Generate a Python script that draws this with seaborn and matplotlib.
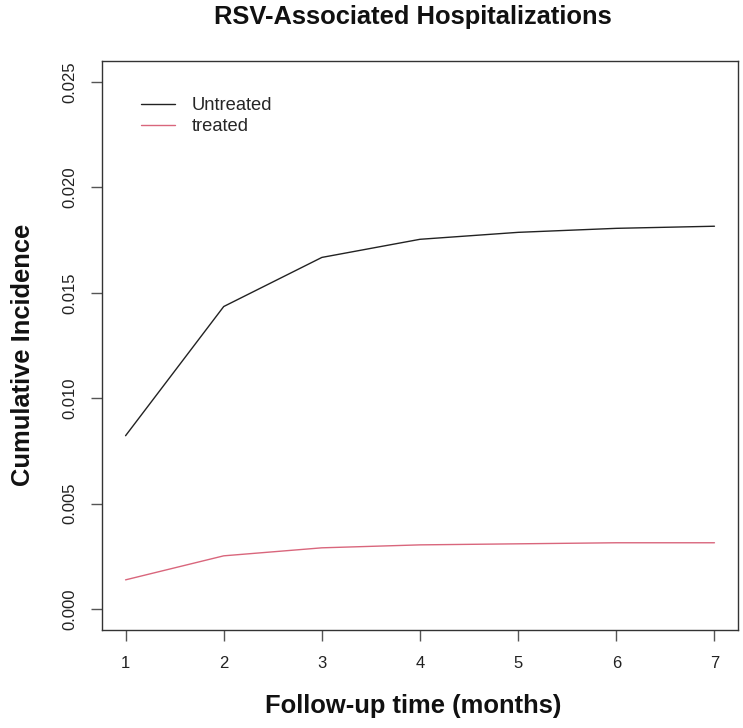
import pandas as pd
import matplotlib
matplotlib.use('Agg')
import matplotlib.pyplot as plt
import seaborn as sns

# values
months = [1, 2, 3, 4, 5, 6, 7]
untreated = [0.00822, 0.01435, 0.01668, 0.01754, 0.01787, 0.01806, 0.01816]
treated = [0.00138, 0.00252, 0.00290, 0.00304, 0.00309, 0.00314, 0.00314]
groups = ['Untreated', 'treated']
y_ticks = [0.000, 0.005, 0.010, 0.015, 0.020, 0.025]

df = pd.DataFrame({
    'month': months * 2,
    'ci': untreated + treated,
    'group': [groups[0]] * len(months) + [groups[1]] * len(months),
})

sns.set_style('ticks')
plt.rcParams['font.family'] = ['Liberation Sans', 'DejaVu Sans']

fig = plt.figure(figsize=(7.43, 7.28), dpi=100)
ax = fig.add_axes([0.1373, 0.1346, 0.856, 0.7816])

sns.lineplot(data=df, x='month', y='ci', hue='group', hue_order=groups,
             palette=['#222222', '#D9667C'], linewidth=1.0, ax=ax)

ax.set_xlim(0.76, 7.24)
ax.set_ylim(-0.001, 0.026)
ax.set_xticks(months)
ax.set_yticks(y_ticks)
ax.set_yticklabels([f'{v:.3f}' for v in y_ticks], rotation=90, va='center')
ax.tick_params(axis='both', length=8, width=1.0, color='#555555',
               labelsize=12, labelcolor='#222222', pad=9.5)
ax.tick_params(axis='x', pad=11)
for s in ax.spines.values():
    s.set_visible(True)
    s.set_color('#333333')
    s.set_linewidth(1.0)

fig.text(0.5555, 0.9670, 'RSV-Associated Hospitalizations', fontsize=18.4,
         fontweight='bold', ha='center', va='baseline', color='#111111')
ax.set_xlabel('Follow-up time (months)', fontsize=18.4, fontweight='bold',
              labelpad=16, color='#111111')
ax.set_ylabel('Cumulative Incidence', fontsize=18.4, fontweight='bold',
              labelpad=20, color='#111111')
ax.xaxis.label.set_x(0.489)
ax.yaxis.label.set_y(0.483)

ax.legend(loc='upper left', bbox_to_anchor=(0.035, 0.965), frameon=False,
          fontsize=13.2, handlelength=1.87, handletextpad=0.92,
          labelspacing=0.2)

fig.savefig('out.png', dpi=100)
